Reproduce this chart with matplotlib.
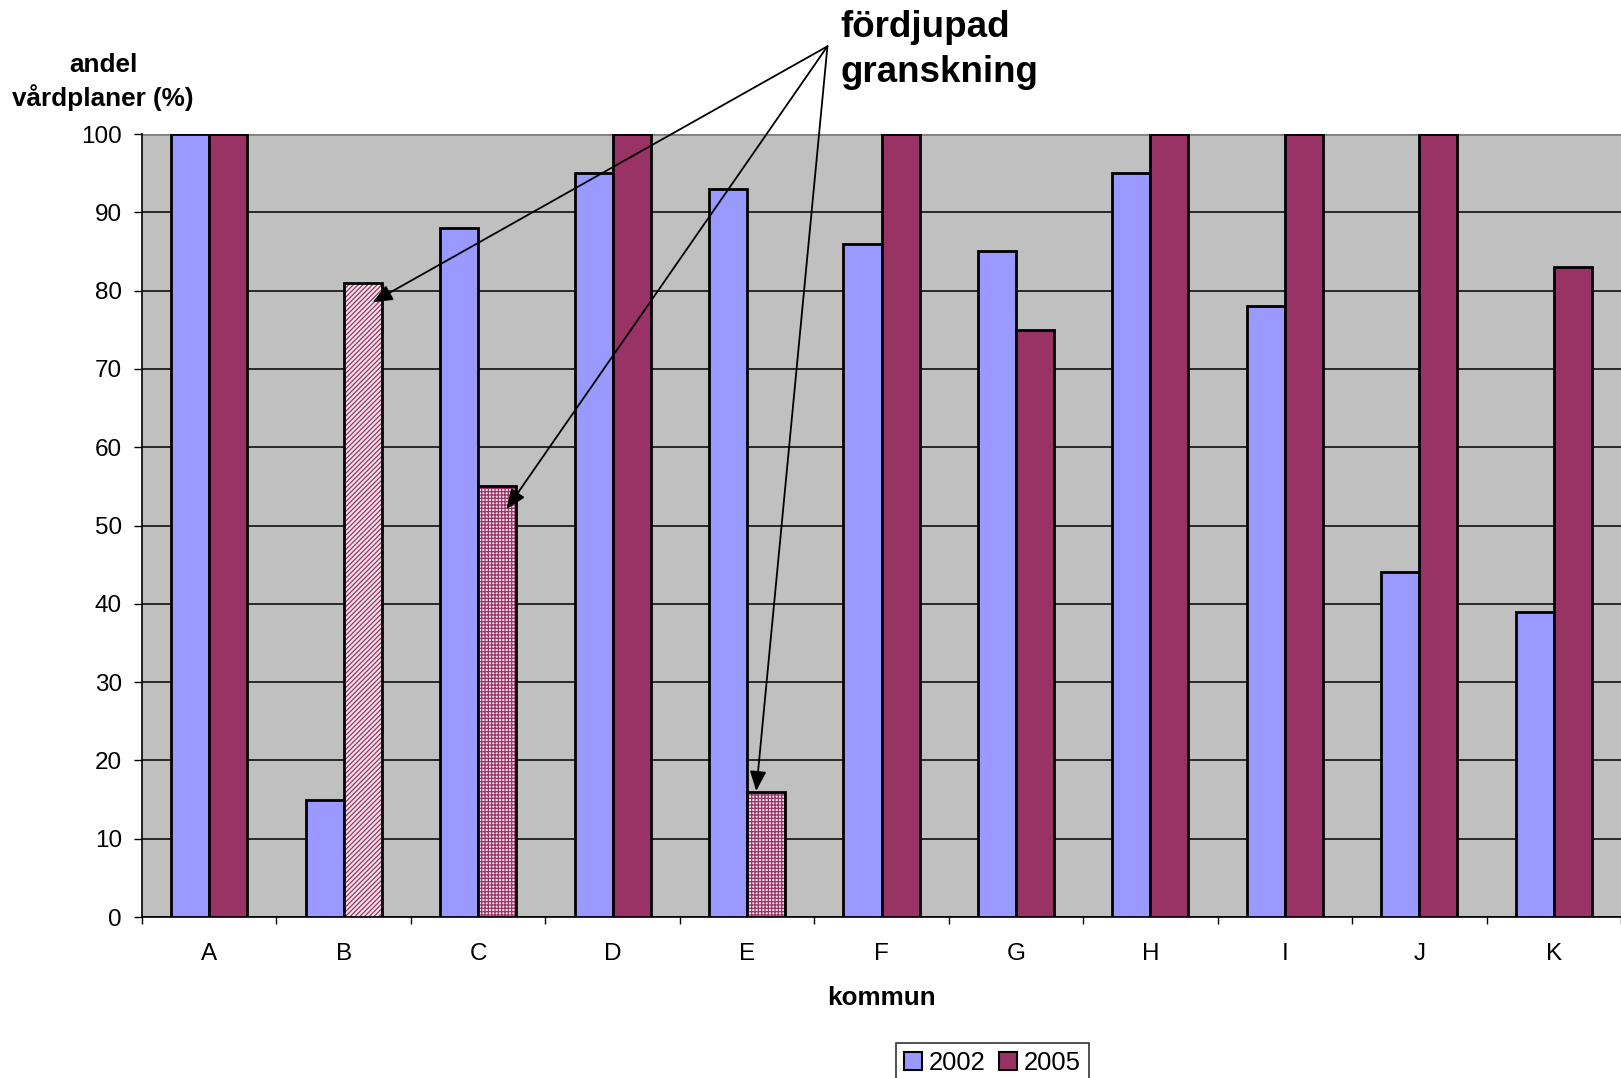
import matplotlib
matplotlib.use("Agg")
import matplotlib.pyplot as plt
import numpy as np
from matplotlib.patches import Patch

plt.rcParams['font.family'] = ['Liberation Sans', 'DejaVu Sans']
plt.rcParams['hatch.linewidth'] = 0.9

categories = ['A', 'B', 'C', 'D', 'E', 'F', 'G', 'H', 'I', 'J', 'K']
v2002 = [100, 15, 88, 95, 93, 86, 85, 95, 78, 44, 39]
v2005 = [100, 81, 55, 100, 16, 100, 75, 100, 100, 100, 83]
# hatch style for the 2005 bars under "fördjupad granskning"
special = {1: '///////', 2: '+++++', 4: '+++++'}
yticks = list(range(0, 101, 10))

c2002 = '#9999FF'
c2005 = '#993366'

W, H = 1621, 1078
fig = plt.figure(figsize=(W/100, H/100), dpi=100)
L, T, B = 142, 134, 917
ax = fig.add_axes([L/W, 1-B/H, 1-L/W, (B-T)/H])
ax.set_facecolor('#C0C0C0')

x = np.arange(len(categories))
w = 0.283
ax.bar(x - w/2, v2002, width=w, color=c2002, edgecolor='black', linewidth=2, zorder=3)
for i, v in enumerate(v2005):
    if i in special:
        ax.bar(x[i] + w/2, v, width=w, color='#f4e4ea', edgecolor=c2005,
               hatch=special[i], linewidth=0, zorder=3)
        ax.bar(x[i] + w/2, v, width=w, color='none', edgecolor='black', linewidth=2, zorder=4)
    else:
        ax.bar(x[i] + w/2, v, width=w, color=c2005, edgecolor='black', linewidth=2, zorder=3)

ax.set_ylim(0, 100)
ax.set_xlim(-0.5, 10.43)
ax.set_yticks(yticks)
ax.yaxis.grid(True, color='black', linewidth=1.1, zorder=1)
ax.set_axisbelow(True)
ax.tick_params(axis='y', labelsize=17.5, length=5.8, width=1, direction='out', pad=8.6)
ax.set_xticks(x)
ax.set_xticklabels(categories)
ax.tick_params(axis='x', which='major', length=0, labelsize=17.5, pad=18.5)
ax.set_xticks(np.arange(-0.5, 10.6, 1), minor=True)
ax.tick_params(axis='x', which='minor', length=5.2, width=1, direction='out')
for s in ['top', 'right']:
    ax.spines[s].set_visible(False)
ax.spines['left'].set_linewidth(1.2)
ax.spines['bottom'].set_linewidth(1.2)
ax.axhline(100, color='#808080', linewidth=2, zorder=2)

ax.set_xlabel('kommun', fontsize=18.7, fontweight='bold', labelpad=15.5)
fig.text(103/W, 1-82/H, 'andel\nvårdplaner (%)', fontsize=18.8, fontweight='bold',
         ha='center', va='center', linespacing=1.32)

fig.text(840/W, 1-10/H, 'fördjupad\ngranskning', fontsize=26.5, fontweight='bold',
         ha='left', va='top', linespacing=1.36)

tail = (4.598, 111.2)
for tip in [(1.215, 78.5), (2.212, 52.1), (4.068, 16.1)]:
    ax.annotate('', xy=tip, xytext=tail, xycoords='data', textcoords='data',
                annotation_clip=False,
                arrowprops=dict(arrowstyle='-|>,head_length=1.2,head_width=0.5',
                                color='black', lw=1.3, shrinkA=0, shrinkB=0),
                zorder=6)

handles = [Patch(facecolor=c2002, edgecolor='black', linewidth=1.5),
           Patch(facecolor=c2005, edgecolor='black', linewidth=1.5)]
leg = fig.legend(handles, ['2002', '2005'], loc='upper left',
                 bbox_to_anchor=(896/W, 1-1043/H), ncol=2, fontsize=18.4,
                 frameon=True, fancybox=False, edgecolor='black',
                 handlelength=0.7, handleheight=0.7, handletextpad=0.25,
                 columnspacing=0.55, borderpad=0.32, borderaxespad=0)
leg.get_frame().set_linewidth(1.2)

fig.savefig('out.png', dpi=100)
